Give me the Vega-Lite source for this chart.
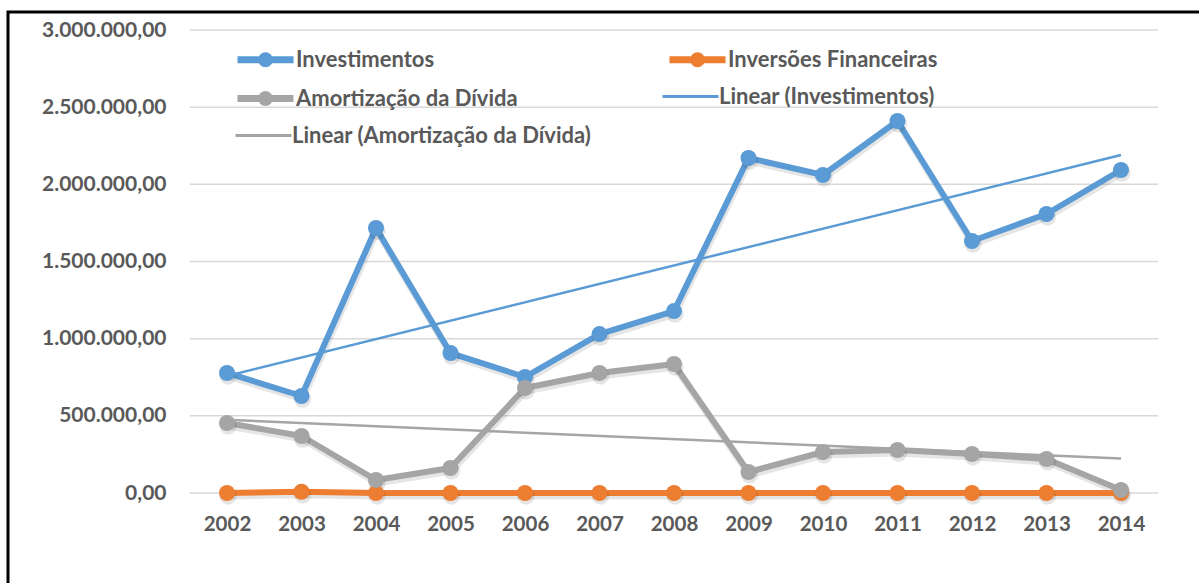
{
  "$schema": "https://vega.github.io/schema/vega-lite/v6.json",
  "width": 1250,
  "height": 600,
  "autosize": {"type": "none"},
  "padding": {"left": 8, "top": 12, "right": 0, "bottom": 0},
  "title": {
    "text": "Despesas de capital em valores constantes de 2014, atualizados pelo IGP-DI (R$)",
    "font": "Lato", "fontSize": 24, "fontWeight": "bold", "color": "#000000",
    "anchor": "middle", "frame": "group", "offset": 12, "dy": -7
  },
  "datasets": {
    "series": [
      {"year": 2002, "series": "Investimentos", "value": 777600},
      {"year": 2003, "series": "Investimentos", "value": 628500},
      {"year": 2004, "series": "Investimentos", "value": 1717000},
      {"year": 2005, "series": "Investimentos", "value": 907000},
      {"year": 2006, "series": "Investimentos", "value": 751600},
      {"year": 2007, "series": "Investimentos", "value": 1030000},
      {"year": 2008, "series": "Investimentos", "value": 1179000},
      {"year": 2009, "series": "Investimentos", "value": 2170700},
      {"year": 2010, "series": "Investimentos", "value": 2060500},
      {"year": 2011, "series": "Investimentos", "value": 2410400},
      {"year": 2012, "series": "Investimentos", "value": 1632800},
      {"year": 2013, "series": "Investimentos", "value": 1807800},
      {"year": 2014, "series": "Investimentos", "value": 2092900},
      {"year": 2002, "series": "Inversões Financeiras", "value": 0},
      {"year": 2003, "series": "Inversões Financeiras", "value": 8000},
      {"year": 2004, "series": "Inversões Financeiras", "value": 0},
      {"year": 2005, "series": "Inversões Financeiras", "value": 0},
      {"year": 2006, "series": "Inversões Financeiras", "value": 0},
      {"year": 2007, "series": "Inversões Financeiras", "value": 0},
      {"year": 2008, "series": "Inversões Financeiras", "value": 0},
      {"year": 2009, "series": "Inversões Financeiras", "value": 0},
      {"year": 2010, "series": "Inversões Financeiras", "value": 0},
      {"year": 2011, "series": "Inversões Financeiras", "value": 0},
      {"year": 2012, "series": "Inversões Financeiras", "value": 0},
      {"year": 2013, "series": "Inversões Financeiras", "value": 0},
      {"year": 2014, "series": "Inversões Financeiras", "value": 0},
      {"year": 2002, "series": "Amortização da Dívida", "value": 453600},
      {"year": 2003, "series": "Amortização da Dívida", "value": 369300},
      {"year": 2004, "series": "Amortização da Dívida", "value": 84200},
      {"year": 2005, "series": "Amortização da Dívida", "value": 162000},
      {"year": 2006, "series": "Amortização da Dívida", "value": 680400},
      {"year": 2007, "series": "Amortização da Dívida", "value": 777600},
      {"year": 2008, "series": "Amortização da Dívida", "value": 835900},
      {"year": 2009, "series": "Amortização da Dívida", "value": 136100},
      {"year": 2010, "series": "Amortização da Dívida", "value": 265700},
      {"year": 2011, "series": "Amortização da Dívida", "value": 278600},
      {"year": 2012, "series": "Amortização da Dívida", "value": 252700},
      {"year": 2013, "series": "Amortização da Dívida", "value": 220300},
      {"year": 2014, "series": "Amortização da Dívida", "value": 19400}
    ],
    "grid": [
      {"level": 0}, {"level": 500000}, {"level": 1000000}, {"level": 1500000},
      {"level": 2000000}, {"level": 2500000}, {"level": 3000000}
    ]
  },
  "resolve": {"scale": {"color": "independent"}},
  "layer": [
    {
      "data": {"name": "grid"},
      "mark": {"type": "rule", "color": "#D9D9D9", "strokeWidth": 1.5},
      "encoding": {
        "y": {"field": "level", "type": "quantitative",
              "scale": {"domain": [-771058, 3116631], "nice": false, "zero": false},
              "axis": {"values": [0, 500000, 1000000, 1500000, 2000000, 2500000, 3000000],
                       "format": ",.2f", "title": null, "grid": false, "domain": false,
                       "ticks": false, "tickSize": 0, "labelPadding": -158,
                       "labelFont": "Lato", "labelFontSize": 21, "labelFontWeight": "bold",
                       "labelColor": "#595959"}},
        "x": {"datum": 2001.5, "type": "quantitative",
              "scale": {"domain": [1999.0604, 2015.8389], "nice": false, "zero": false},
              "axis": {"values": [2002, 2003, 2004, 2005, 2006, 2007, 2008, 2009, 2010, 2011, 2012, 2013, 2014],
                       "format": "d", "title": null, "grid": false, "domain": false,
                       "ticks": false, "tickSize": 0, "labelPadding": -88, "labelBaseline": "middle",
                       "labelFont": "Lato", "labelFontSize": 20.5, "labelFontWeight": "bold",
                       "labelColor": "#595959"}},
        "x2": {"datum": 2014.5}
      }
    },
    {
      "data": {"name": "series"},
      "mark": {"type": "line", "strokeWidth": 7, "strokeJoin": "round", "strokeCap": "round",
               "color": "#000000", "opacity": 0.1, "yOffset": 3, "xOffset": 1},
      "encoding": {
        "x": {"field": "year", "type": "quantitative"},
        "y": {"field": "value", "type": "quantitative"},
        "detail": {"field": "series", "type": "nominal"}
      }
    },
    {
      "data": {"name": "series"},
      "transform": [{"filter": "datum.series !== 'Amortização da Dívida'"}],
      "mark": {"type": "line", "strokeWidth": 6, "strokeJoin": "round", "strokeCap": "round"},
      "encoding": {
        "x": {"field": "year", "type": "quantitative"},
        "y": {"field": "value", "type": "quantitative"},
        "color": {
          "field": "series", "type": "nominal",
          "scale": {
            "domain": ["Investimentos", "Inversões Financeiras"],
            "range": ["#5B9BD5", "#ED7D31"]
          },
          "legend": {
            "orient": "none", "legendX": 226, "legendY": 16, "direction": "horizontal",
            "title": null, "labelLimit": 600,
            "labelFont": "Lato", "labelFontSize": 22, "labelFontWeight": "bold", "labelColor": "#595959",
            "symbolSize": 3136, "columnPadding": 220, "labelOffset": -1,
            "symbolType": "M-1,0H1M-0.14,0A0.14,0.14,0,1,0,0.14,0A0.14,0.14,0,1,0,-0.14,0",
            "symbolStrokeWidth": 7
          }
        }
      }
    },
    {
      "data": {"name": "series"},
      "transform": [{"filter": "datum.series === 'Amortização da Dívida'"}],
      "mark": {"type": "line", "strokeWidth": 6, "strokeJoin": "round", "strokeCap": "round"},
      "encoding": {
        "x": {"field": "year", "type": "quantitative"},
        "y": {"field": "value", "type": "quantitative"},
        "color": {
          "field": "series", "type": "nominal",
          "scale": {"domain": ["Amortização da Dívida"], "range": ["#A5A5A5"]},
          "legend": {
            "orient": "none", "legendX": 226, "legendY": 55,
            "title": null, "labelLimit": 600,
            "labelFont": "Lato", "labelFontSize": 22, "labelFontWeight": "bold", "labelColor": "#595959",
            "symbolSize": 3136, "labelOffset": -1,
            "symbolType": "M-1,0H1M-0.14,0A0.14,0.14,0,1,0,0.14,0A0.14,0.14,0,1,0,-0.14,0",
            "symbolStrokeWidth": 7
          }
        }
      }
    },
    {
      "data": {"name": "series"},
      "mark": {"type": "point", "filled": true, "shape": "circle", "size": 300, "color": "#000000", "opacity": 0.1, "yOffset": 3, "xOffset": 1},
      "encoding": {
        "x": {"field": "year", "type": "quantitative"},
        "y": {"field": "value", "type": "quantitative"}
      }
    },
    {
      "data": {"name": "series"},
      "mark": {"type": "point", "filled": true, "shape": "circle", "size": 256, "opacity": 1},
      "encoding": {
        "x": {"field": "year", "type": "quantitative"},
        "y": {"field": "value", "type": "quantitative"},
        "color": {
          "field": "series", "type": "nominal",
          "scale": {
            "domain": ["Investimentos", "Inversões Financeiras", "Amortização da Dívida"],
            "range": ["#5B9BD5", "#ED7D31", "#A5A5A5"]
          },
          "legend": null
        }
      }
    },
    {
      "data": {"name": "series"},
      "transform": [
        {"filter": "datum.series === 'Investimentos'"},
        {"regression": "value", "on": "year"}
      ],
      "mark": {"type": "line", "strokeWidth": 2.5},
      "encoding": {
        "x": {"field": "year", "type": "quantitative"},
        "y": {"field": "value", "type": "quantitative"},
        "color": {
          "datum": "Linear (Investimentos)", "type": "nominal",
          "scale": {"range": ["#5B9BD5"]},
          "legend": {
            "orient": "none", "legendX": 653, "legendY": 55, "title": null, "labelLimit": 600,
            "labelFont": "Lato", "labelFontSize": 22, "labelFontWeight": "bold", "labelColor": "#595959",
            "symbolSize": 3136, "labelOffset": -1, "symbolType": "M-1,0H1", "symbolStrokeWidth": 3
          }
        }
      }
    },
    {
      "data": {"name": "series"},
      "transform": [
        {"filter": "datum.series === 'Amortização da Dívida'"},
        {"regression": "value", "on": "year"}
      ],
      "mark": {"type": "line", "strokeWidth": 2.5},
      "encoding": {
        "x": {"field": "year", "type": "quantitative"},
        "y": {"field": "value", "type": "quantitative"},
        "color": {
          "datum": "Linear (Amortização da Dívida)", "type": "nominal",
          "scale": {"range": ["#A5A5A5"]},
          "legend": {
            "orient": "none", "legendX": 226, "legendY": 94, "title": null, "labelLimit": 600,
            "labelFont": "Lato", "labelFontSize": 22, "labelFontWeight": "bold", "labelColor": "#595959",
            "symbolSize": 3136, "labelOffset": -1, "symbolType": "M-1,0H1", "symbolStrokeWidth": 3
          }
        }
      }
    }
  ],
  "config": {
    "locale": {"number": {"decimal": ",", "thousands": ".", "grouping": [3], "currency": ["R$ ", ""]}},
    "view": {"stroke": "#000000", "strokeWidth": 3},
    "background": "#ffffff"
  }
}
